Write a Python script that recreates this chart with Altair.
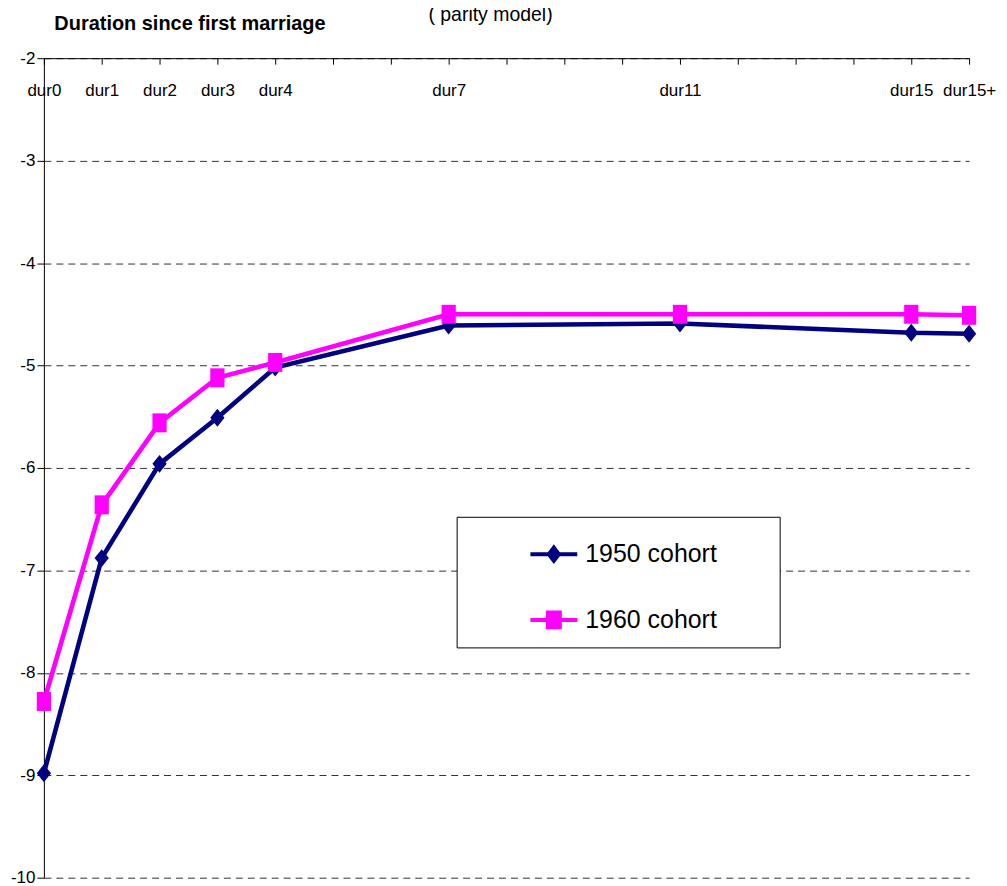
import altair as alt
import pandas as pd

# ---- data ----
X_LABELS = ["dur0", "dur1", "dur2", "dur3", "dur4", "dur7", "dur11", "dur15", "dur15+"]
X_POS = [0, 1, 2, 3, 4, 7, 11, 15, 16]
COHORTS = ["1950 cohort", "1960 cohort"]
V1950 = [-8.98, -6.88, -5.96, -5.51, -5.02, -4.61, -4.59, -4.68, -4.69]
V1960 = [-8.28, -6.36, -5.56, -5.12, -4.97, -4.50, -4.50, -4.50, -4.51]
COLORS = ["#000080", "#FF00FF"]
Y_TICKS = [-10, -9, -8, -7, -6, -5, -4, -3, -2]
X_TICKS = list(range(0, 17))

rows = []
for c, vals in zip(COHORTS, [V1950, V1960]):
    for lab, pos, v in zip(X_LABELS, X_POS, vals):
        rows.append({"cohort": c, "dur": lab, "pos": pos, "value": v})
df = pd.DataFrame(rows)

FONT = "Liberation Sans, Arial, sans-serif"

W, H = 928, 822

# marker shapes (unit paths)
DIAMOND = "M0,-1L0.8,0L0,1L-0.8,0Z"
SQUARE = "M-0.75,-1L0.75,-1L0.75,1L-0.75,1Z"
# legend symbols: line with marker
LEG1950 = ("M-1,-0.085L-0.255,-0.085L0,-0.42L0.255,-0.085L1,-0.085L1,0.085"
           "L0.255,0.085L0,0.42L-0.255,0.085L-1,0.085Z")
LEG1960 = ("M-1,-0.085L-0.34,-0.085L-0.34,-0.4L0.34,-0.4L0.34,-0.085L1,-0.085"
           "L1,0.085L0.34,0.085L0.34,0.4L-0.34,0.4L-0.34,0.085L-1,0.085Z")

label_expr = " : ".join(f"datum.value == {p} ? '{l}'" for p, l in zip(X_POS, X_LABELS)) + " : ''"

color_scale = alt.Scale(domain=COHORTS, range=COLORS)

x_enc = alt.X(
    "pos:Q",
    scale=alt.Scale(domain=[0, 16], nice=False, zero=False),
    axis=alt.Axis(
        orient="bottom", offset=-H, values=X_TICKS, labelExpr=label_expr,
        grid=False, domainColor="black", tickColor="black", tickSize=6,
        labelPadding=31, labelBaseline="alphabetic", labelFont=FONT,
        labelFontSize=17, labelColor="black", labelOverlap=False,
        labelFlush=False, labelBound=False,
        title="Duration since first marriage", titleX=10, titleY=-29,
        titleAngle=0, titleAlign="left", titleBaseline="alphabetic",
        titleFont=FONT, titleFontSize=20, titleFontWeight="bold",
        titleColor="black",
    ),
)
y_enc = alt.Y(
    "value:Q",
    scale=alt.Scale(domain=[-10, -2], nice=False, zero=False),
    axis=alt.Axis(
        values=Y_TICKS, labelExpr="'' + datum.value", grid=True,
        gridDash=[7, 5], gridColor="#333333", gridWidth=1,
        domainColor="black", tickColor="black", tickSize=7, labelPadding=2,
        labelFont=FONT, labelFontSize=17, labelColor="black", title=None,
        labelFlush=False, labelBound=False,
    ),
)

base = alt.Chart(df).encode(x=x_enc, y=y_enc)

# trailing no-break spaces widen the legend box; a zero-width space keeps them from being trimmed
PAD = "\u00a0" * 7 + "\u200b"
leg = alt.Legend(
    orient="none", legendX=414, legendY=460, title=None,
    fillColor="white", strokeColor="black", padding=14,
    symbolSize=2209, symbolStrokeWidth=0, symbolOpacity=1,
    labelFont=FONT, labelFontSize=25, labelColor="black",
    rowPadding=29, symbolOffset=60, labelOffset=8, labelLimit=0,
    labelExpr=f"datum.label + '{PAD}'",
)
legend_layer = base.transform_filter("false").mark_point(
    filled=True, opacity=1, strokeWidth=0
).encode(
    color=alt.Color("cohort:N", scale=color_scale, legend=leg),
    shape=alt.Shape("cohort:N", scale=alt.Scale(domain=COHORTS, range=[LEG1950, LEG1960]), legend=leg),
)

lines = base.mark_line(strokeWidth=4.6).encode(
    color=alt.Color("cohort:N", scale=color_scale, legend=None)
)
p1950 = base.transform_filter(alt.datum.cohort == COHORTS[0]).mark_point(
    shape=DIAMOND, filled=True, size=320, opacity=1, strokeWidth=0
).encode(color=alt.Color("cohort:N", scale=color_scale, legend=None))
p1960 = base.transform_filter(alt.datum.cohort == COHORTS[1]).mark_point(
    shape=SQUARE, filled=True, size=361, opacity=1, strokeWidth=0
).encode(color=alt.Color("cohort:N", scale=color_scale, legend=None))

chart = alt.layer(legend_layer, lines, p1950, p1960).properties(
    width=W, height=H,
    title=alt.TitleParams(
        "( parity model)", anchor="middle", frame="group", fontSize=19.5,
        font=FONT, fontWeight="normal", color="black", dx=-16, dy=27,
        offset=0, baseline="alphabetic",
    ),
    autosize=alt.AutoSizeParams(type="none"),
    padding={"left": 36, "top": 49, "right": 30, "bottom": 8},
    background="white",
).configure_view(stroke=None)

chart.save("out.html", embed_options={"renderer": "svg", "actions": False})
